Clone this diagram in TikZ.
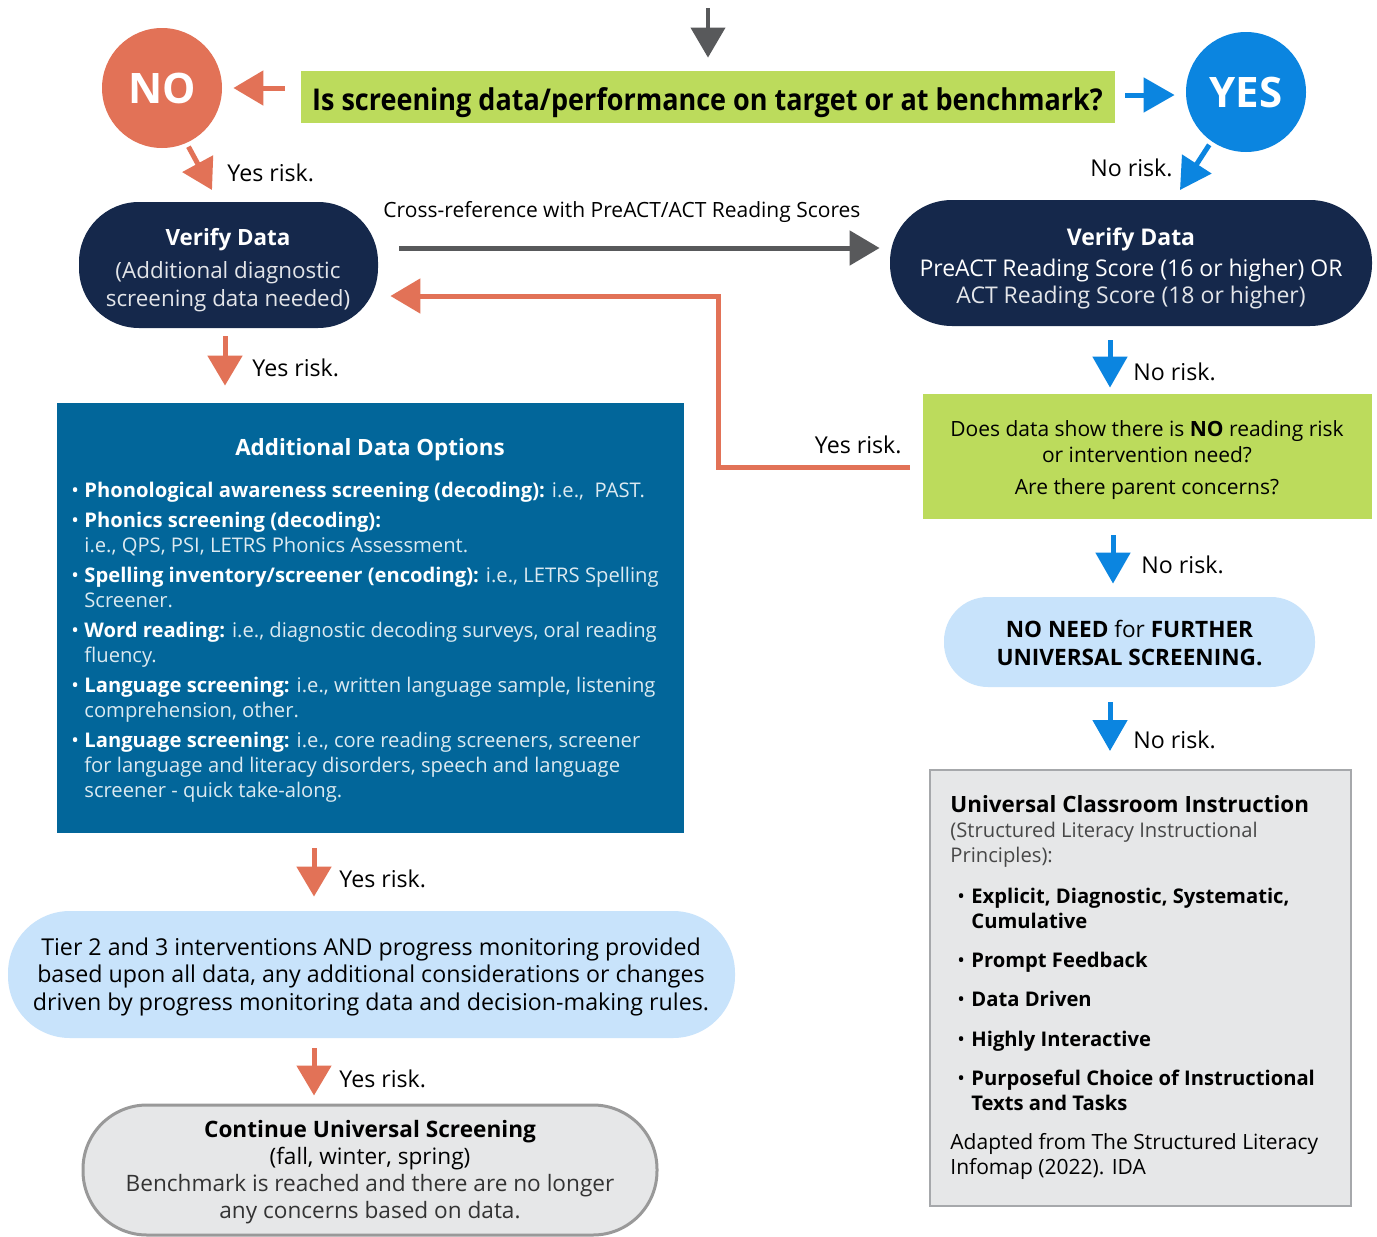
\documentclass[tikz,border=0pt]{standalone}
\usepackage{fontspec}
\setmainfont{Open Sans}
\newfontfamily\cnd[FakeStretch=0.9]{Open Sans}
\usetikzlibrary{arrows.meta,calc}
\definecolor{orng}{HTML}{E27257}
\definecolor{blu}{HTML}{0B85E0}
\definecolor{navy}{HTML}{15284B}
\definecolor{lime}{HTML}{BCDB5C}
\definecolor{adoblue}{HTML}{02669A}
\definecolor{lblue}{HTML}{C8E3FB}
\definecolor{lgray}{HTML}{E6E7E8}
\definecolor{mgray}{HTML}{A6A8AB}
\definecolor{dgray}{HTML}{58595B}
\tikzset{
  oarr/.style={draw=orng, line width=2.5pt, -{Triangle[length=15pt,width=17pt]}},
  barr/.style={draw=blu, line width=2.5pt, -{Triangle[length=15.5pt,width=17pt]}},
  garr/.style={draw=dgray, line width=2.5pt, -{Triangle[length=15pt,width=17pt]}},
  lbl/.style={inner sep=0, font=\fontsize{11.6}{14}\selectfont},
  txt/.style={inner sep=0, anchor=base},
}
\begin{document}
\begin{tikzpicture}[x=0.5pt,y=-0.5pt]
\useasboundingbox (0,0) rectangle (1377,1237);
\fill[white] (0,0) rectangle (1377,1237);

% top question
\node[fill=lime, minimum width=407pt, minimum height=26pt, inner sep=0] (q) at (708,97) {};
\node[txt, font=\cnd\bfseries\fontsize{15}{18}\selectfont] (qt) at (707.5,110)
  {Is screening data/performance on target or at benchmark?};
\coordinate (top) at (708,8);
\draw[garr, line width=2pt, shorten >=6.5pt] (top) -- (q.north);

% NO / YES
\node[circle, fill=orng, minimum size=60pt, inner sep=0, text=white, font=\bfseries\fontsize{21}{24}\selectfont] (NO) at (162,88) {NO};
\node[circle, fill=blu, minimum size=60pt, inner sep=0, text=white, font=\bfseries\fontsize{21}{24}\selectfont] (YES) at (1246,92) {YES};
\draw[oarr, shorten <=8pt, shorten >=5.5pt] (q.west |- NO.east) -- (NO.east);
\draw[barr, shorten <=5pt, shorten >=5.5pt] ($(q.east)+(0,-2)$) -- ($(q.east -| YES.west)+(0,-2)$);

\coordinate (noT) at (212,190);
\coordinate (yesT) at (1180,190);
\draw[oarr, shorten <=2pt] (NO.-66) -- (noT);
\draw[barr, shorten <=2pt] (YES.-125) -- (yesT);
\node[lbl, anchor=base west] (l1) at (227,181) {Yes risk.};
\node[lbl, anchor=base east] (l2) at (1173,176) {No risk.};

% verify data nodes
\node[fill=navy, rounded corners=30pt, minimum width=149.5pt, minimum height=63pt, inner sep=0] (v1) at (228.5,265) {};
\node[txt, text=white, font=\fontsize{11.2}{14}\selectfont] (v1t) at (228,245)
  {\begin{tabular}[t]{@{}c@{}}\textbf{Verify Data}\\[2.5pt]\color{white!88!navy}(Additional diagnostic\\\color{white!88!navy}screening data needed)\end{tabular}};
\node[fill=navy, rounded corners=31pt, minimum width=241pt, minimum height=63pt, inner sep=0] (v2) at (1131,263) {};
\node[txt, text=white, font=\fontsize{11.5}{13.5}\selectfont] (v2t) at (1131,245)
  {\begin{tabular}[t]{@{}c@{}}\textbf{Verify Data}\\[2pt]PreACT Reading Score (16 or higher) OR\\\color{white!88!navy}ACT Reading Score (18 or higher)\end{tabular}};
\draw[garr] ($(v1.east)+(21,-17)$) -- ($(v2.west)+(-10,-15)$);
\node[txt, font=\fontsize{10.5}{12}\selectfont] (xref) at (622,217) {Cross-reference with PreACT/ACT Reading Scores};

% right column
\node[fill=lime, minimum width=224.5pt, minimum height=62.5pt, inner sep=0] (g2) at (1147.5,456.5) {};
\node[txt, font=\fontsize{10.5}{13}\selectfont] (g2t) at (1147,436)
  {\begin{tabular}[t]{@{}c@{}}Does data show there is \textbf{NO} reading risk\\or intervention need?\\[3pt]Are there parent concerns?\end{tabular}};
\draw[barr] ($(v2.south)+(-21,14)$) -- ($(g2.north)+(-37.5,-6)$);
\node[lbl, anchor=base west] (l3) at (1133,380) {No risk.};

\draw[oarr] ($(g2.west)+(-13,10.5)$) -- (718,467) -- (718,296) -- ($(v1.east)+(12,31)$);
\node[lbl, anchor=base east] (l4) at (902,453) {Yes risk.};

\node[fill=lblue, rounded corners=22pt, minimum width=185.5pt, minimum height=45pt, inner sep=0] (nn) at (1129.5,642) {};
\node[txt, font=\bfseries\fontsize{11.3}{14}\selectfont] (nnt) at (1129.5,637)
  {\begin{tabular}[t]{@{}c@{}}NO NEED \textmd{for} FURTHER\\UNIVERSAL SCREENING.\end{tabular}};
\draw[barr] ($(g2.south)+(-34.5,16)$) -- ($(nn.north)+(-16.5,-13)$);
\node[lbl, anchor=base west] (l5) at (1141,573) {No risk.};

\node[fill=lgray, draw=mgray, line width=1pt, minimum width=210.5pt, minimum height=218pt, inner sep=0] (uci) at (1140.5,988) {};
\draw[barr] ($(nn.south)+(-19.5,15)$) -- ($(uci.north)+(-30.5,-18)$);
\node[lbl, anchor=base west] (l6) at (1133,748) {No risk.};
\node[anchor=base west, inner sep=0, font=\fontsize{10.1}{12.5}\selectfont] (ucit) at (950,812) {%
\begin{tabular}[t]{@{}l@{}}
{\bfseries\fontsize{11.2}{12.5}\selectfont Universal Classroom Instruction}\\
{\color{black!72}(Structured Literacy Instructional}\\
{\color{black!72}Principles):}\\[8pt]
\hspace*{3.5pt}\makebox[7pt][l]{•}\textbf{Explicit, Diagnostic, Systematic,}\\
\hspace*{10.5pt}\textbf{Cumulative}\\[7pt]
\hspace*{3.5pt}\makebox[7pt][l]{•}\textbf{Prompt Feedback}\\[7pt]
\hspace*{3.5pt}\makebox[7pt][l]{•}\textbf{Data Driven}\\[7.5pt]
\hspace*{3.5pt}\makebox[7pt][l]{•}\textbf{Highly Interactive}\\[7pt]
\hspace*{3.5pt}\makebox[7pt][l]{•}\textbf{Purposeful Choice of Instructional}\\
\hspace*{10.5pt}\textbf{Texts and Tasks}\\[7pt]
{\fontsize{10.5}{12.5}\selectfont Adapted from The Structured Literacy}\\
{\fontsize{10.5}{12.5}\selectfont Infomap (2022). IDA}
\end{tabular}};

% left column
\node[fill=adoblue, minimum width=313.5pt, minimum height=215pt, inner sep=0] (ado) at (370.5,618) {};
\draw[oarr] ($(v1.south)+(-3.5,8)$) -- ($(ado.north)+(-145.5,-17)$);
\node[lbl, anchor=base west] (l7) at (252,376) {Yes risk.};
\node[txt, text=white, font=\bfseries\fontsize{11.2}{14}\selectfont] (adot) at (370,455) {Additional Data Options};
\node[anchor=base west, inner sep=0, text=white!86!adoblue, font=\fontsize{10.1}{12.5}\selectfont] (adob) at (71,497) {%
\begin{tabular}[t]{@{}p{6.5pt}@{}l@{}}
\textcolor{white}{•}&\textcolor{white}{\textbf{Phonological awareness screening (decoding):}} i.e.,\ \ PAST.\\[2.5pt]
\textcolor{white}{•}&\textcolor{white}{\textbf{Phonics screening (decoding):}}\\
&i.e., QPS, PSI, LETRS Phonics Assessment.\\[2.5pt]
\textcolor{white}{•}&\textcolor{white}{\textbf{Spelling inventory/screener (encoding):}} i.e., LETRS Spelling\\
&Screener.\\[2.5pt]
\textcolor{white}{•}&\textcolor{white}{\textbf{Word reading:}} i.e., diagnostic decoding surveys, oral reading\\
&fluency.\\[2.5pt]
\textcolor{white}{•}&\textcolor{white}{\textbf{Language screening:}} i.e., written language sample, listening\\
&comprehension, other.\\[2.5pt]
\textcolor{white}{•}&\textcolor{white}{\textbf{Language screening:}} i.e., core reading screeners, screener\\
&for language and literacy disorders, speech and language\\
&screener - quick take-along.
\end{tabular}};

\node[fill=lblue, rounded corners=31pt, minimum width=363.5pt, minimum height=63.5pt, inner sep=0] (tier) at (371.5,974.5) {};
\node[txt, font=\fontsize{11.6}{13.75}\selectfont] (tiert) at (371,955)
  {\begin{tabular}[t]{@{}c@{}}Tier 2 and 3 interventions AND progress monitoring provided\\based upon all data, any additional considerations or changes\\driven by progress monitoring data and decision-making rules.\end{tabular}};
\draw[oarr] ($(ado.south)+(-56.5,15)$) -- ($(tier.north)+(-57.5,-14)$);
\node[lbl, anchor=base west] (l8) at (339,887) {Yes risk.};

\node[fill=lgray, draw=black!40, line width=1.5pt, rounded corners=32pt, minimum width=287pt, minimum height=65pt, inner sep=0] (cont) at (370,1170) {};
\node[txt, font=\fontsize{11.3}{13.5}\selectfont] (contt) at (370,1137)
  {\begin{tabular}[t]{@{}c@{}}\textbf{Continue Universal Screening}\\(fall, winter, spring)\\\color{black!80}Benchmark is reached and there are no longer\\\color{black!80}any concerns based on data.\end{tabular}};
\draw[oarr] ($(tier.south)+(-57.5,10)$) -- ($(cont.north)+(-56,-8)$);
\node[lbl, anchor=base west] (l9) at (339,1087) {Yes risk.};
\end{tikzpicture}
\end{document}
